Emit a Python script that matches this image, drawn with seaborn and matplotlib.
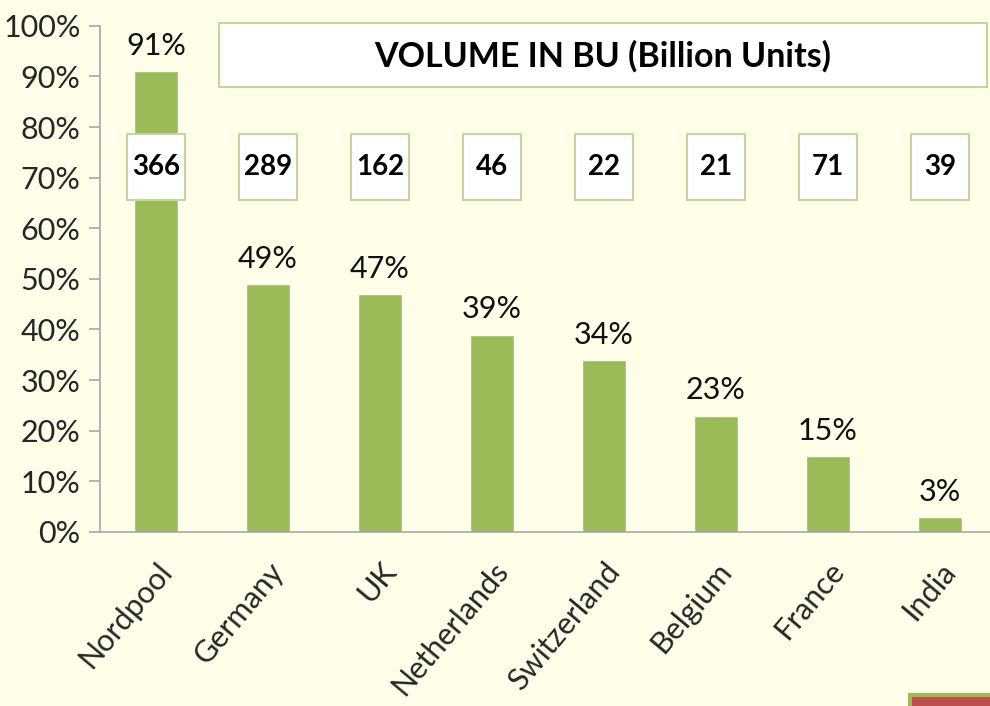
import matplotlib.pyplot as plt
import seaborn as sns
import pandas as pd
from matplotlib.patches import Rectangle

# chart data
markets = ['Nordpool', 'Germany', 'UK', 'Netherlands', 'Switzerland', 'Belgium', 'France', 'India']
share = [91, 49, 47, 39, 34, 23, 15, 3]
volume_bu = [366, 289, 162, 46, 22, 21, 71, 39]
y_ticks = [0, 10, 20, 30, 40, 50, 60, 70, 80, 90, 100]

bg = '#FEFEE9'
bar_green = '#9BBB59'
edge_green = '#C3D69B'

sns.set_style('white')
plt.rcParams['font.family'] = ['Lato', 'DejaVu Sans']

df = pd.DataFrame({'market': markets, 'share': share})

fig = plt.figure(figsize=(9.9, 7.06), dpi=100, facecolor=bg)
ax = fig.add_axes([0.101, 0.2465, 0.905, 0.717])
ax.set_facecolor(bg)

sns.barplot(data=df, x='market', y='share', color=bar_green, width=0.4,
            saturation=1, ax=ax)

ax.set_ylim(0, 100)
ax.set_xlim(-0.5, 7.5)
ax.set_yticks(y_ticks)
ax.set_yticklabels([f'{t}%' for t in y_ticks], fontsize=22)
ax.set_xlabel('')
ax.set_ylabel('')

# category labels rotated, ticks between categories
ax.set_xticks(range(len(markets)))
ax.set_xticklabels(markets, rotation=50, ha='right', rotation_mode='anchor', fontsize=22)
ax.tick_params(axis='x', length=0, pad=18)
ax.set_xticks([i - 0.5 for i in range(len(markets) + 1)], minor=True)
ax.tick_params(axis='x', which='minor', length=10, color='#A6A6A6', width=1.2)
ax.tick_params(axis='y', length=8, color='#A6A6A6', width=1.2, pad=6, left=True)

for s in ['top', 'right']:
    ax.spines[s].set_visible(False)
for s in ['left', 'bottom']:
    ax.spines[s].set_color('#A6A6A6')
    ax.spines[s].set_linewidth(1.2)

# percentage labels above bars
for i, v in enumerate(share):
    ax.text(i, v + 2.2, f'{v}%', ha='center', va='bottom', fontsize=22, color='#111111')

# volume boxes
box_w = 0.51
for i, vol in enumerate(volume_bu):
    ax.add_patch(Rectangle((i - box_w / 2, 65.6), box_w, 13.1, fc='white', ec=edge_green,
                           lw=1.5, zorder=5))
    ax.text(i, 72.1, str(vol), ha='center', va='center', fontsize=20,
            fontweight='bold', color='black', zorder=6)

# title box
fig.patches.append(Rectangle((219 / 990, 1 - 87 / 706), (987 - 219) / 990, 64 / 706,
                             transform=fig.transFigure, fc='white', ec=edge_green, lw=1.5))
fig.text((219 + 987) / 2 / 990, 1 - 56 / 706, 'VOLUME IN BU (Billion Units)',
         ha='center', va='center', fontsize=24.5, fontweight='bold', color='black')

# corner marker
fig.patches.append(Rectangle((908 / 990, 0), 82 / 990, 13 / 706, transform=fig.transFigure,
                             fc=bar_green, ec='none'))
fig.patches.append(Rectangle((912 / 990, 0), 78 / 990, 9 / 706, transform=fig.transFigure,
                             fc='#C0504D', ec='none'))

fig.savefig('out.png', dpi=100, facecolor=bg)
